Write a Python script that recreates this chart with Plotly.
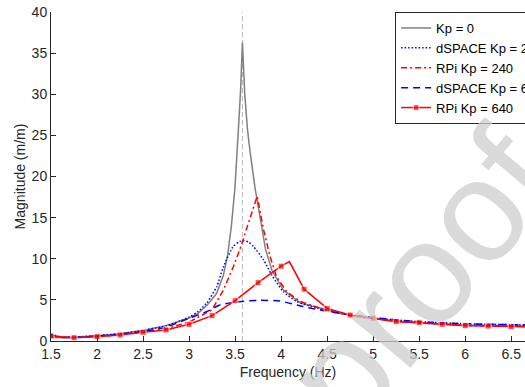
import plotly.graph_objects as go

# ---- data ----
f_kp0 = [1.5, 1.6, 1.75, 2.0, 2.25, 2.5, 2.75, 3.0, 3.1, 3.2, 3.3, 3.373, 3.42, 3.46, 3.497, 3.536, 3.56,
         3.58, 3.605, 3.635, 3.663, 3.717, 3.77, 3.83, 3.90, 4.025, 4.21, 4.5, 4.75, 5.0, 5.5, 6.0, 6.7]
m_kp0 = [0.45, 0.4, 0.42, 0.6, 0.85, 1.3, 1.85, 2.8, 3.4, 4.4, 5.8, 8.0, 10.5, 14.0, 18.4, 25.7, 30.5,
         36.3, 30.0, 25.7, 23.0, 18.6, 15.0, 11.2, 8.6, 6.2, 4.6, 3.8, 3.1, 2.7, 2.2, 1.95, 1.8]

f_ds240 = [1.5, 1.6, 1.75, 2.0, 2.25, 2.5, 2.75, 3.0, 3.1, 3.19, 3.3, 3.373, 3.48, 3.55, 3.6, 3.65,
           3.70, 3.81, 3.90, 4.025, 4.17, 4.39, 4.64, 5.0, 5.5, 6.0, 6.7]
m_ds240 = [0.85, 0.5, 0.5, 0.65, 0.9, 1.3, 1.85, 2.9, 3.6, 4.6, 6.6, 9.0, 11.5, 12.1, 12.2, 12.0,
           11.5, 9.85, 8.0, 6.0, 4.8, 4.0, 3.37, 2.8, 2.35, 2.1, 1.95]

f_rp240 = [1.5, 1.75, 2.0, 2.25, 2.5, 2.75, 3.0, 3.25, 3.373, 3.48, 3.554, 3.65, 3.74, 3.81, 3.88,
           3.95, 4.06, 4.21, 4.42, 4.75, 5.0, 5.5, 6.0, 6.7]
m_rp240 = [0.55, 0.4, 0.55, 0.75, 1.1, 1.5, 2.3, 3.8, 6.2, 9.0, 11.2, 14.5, 17.6, 13.5, 10.3,
           7.8, 6.0, 4.8, 4.0, 3.1, 2.7, 2.2, 1.9, 1.75]

f_ds640 = [1.5, 1.6, 1.75, 2.0, 2.25, 2.5, 2.75, 3.0, 3.19, 3.34, 3.55, 3.77, 3.99, 4.21, 4.42, 4.64,
           5.0, 5.5, 6.0, 6.7]
m_ds640 = [0.75, 0.45, 0.45, 0.6, 0.85, 1.15, 1.7, 2.76, 3.57, 4.4, 4.78, 4.95, 4.85, 4.26, 3.77, 3.37,
           2.85, 2.35, 2.1, 1.95]

f_rp640 = [1.5, 1.75, 2.0, 2.25, 2.5, 2.75, 3.0, 3.25, 3.5, 3.75, 4.0, 4.09, 4.25, 4.5, 4.75, 5.0,
           5.25, 5.5, 5.75, 6.0, 6.25, 6.5, 6.75]
m_rp640 = [0.6, 0.4, 0.53, 0.73, 1.06, 1.34, 2.03, 3.08, 4.9, 7.1, 9.1, 9.65, 6.3, 3.97, 3.16, 2.76,
           2.35, 2.23, 2.03, 1.86, 1.82, 1.74, 1.7]
rp640_marked = [True] * 11 + [False] + [True] * 11

resonance_freq = 3.58
x_ticks = [1.5, 2, 2.5, 3, 3.5, 4, 4.5, 5, 5.5, 6, 6.5]
y_ticks = [0, 5, 10, 15, 20, 25, 30, 35, 40]

names = ["Kp = 0", "dSPACE Kp = 240", "RPi Kp = 240", "dSPACE Kp = 640", "RPi Kp = 640"]

FONT = "Liberation Sans, Arial, sans-serif"
TXT = "#262626"

fig = go.Figure()
fig.add_trace(go.Scatter(x=f_kp0, y=m_kp0, mode="lines", name=names[0],
                         line=dict(color="rgb(128,128,128)", width=1.5)))
fig.add_trace(go.Scatter(x=f_ds240, y=m_ds240, mode="lines", name=names[1],
                         line=dict(color="blue", width=1.5, dash="1.5px,2px", shape="spline", smoothing=0.6)))
fig.add_trace(go.Scatter(x=f_rp240, y=m_rp240, mode="lines", name=names[2],
                         line=dict(color="red", width=1.5, dash="6px,3px,2px,3px")))
fig.add_trace(go.Scatter(x=f_ds640, y=m_ds640, mode="lines", name=names[3],
                         line=dict(color="blue", width=1.5, dash="7px,5px", shape="spline", smoothing=0.6)))
fig.add_trace(go.Scatter(x=f_rp640, y=m_rp640, mode="lines+markers", name=names[4],
                         line=dict(color="red", width=1.5),
                         marker=dict(symbol="square", color="red",
                                     size=[6 if m else 0 for m in rp640_marked])))

fig.add_shape(type="line", x0=resonance_freq, x1=resonance_freq, y0=0, y1=40, xref="x", yref="y",
              line=dict(color="rgb(185,185,185)", width=1, dash="5px,3px"), layer="below")

fig.add_annotation(text="proof", xref="paper", yref="paper", x=0.78, y=0.19,
                   xanchor="center", yanchor="middle", showarrow=False,
                   textangle=-50, font=dict(family=FONT, size=145, color="rgba(205,205,205,0.75)"))

fig.update_layout(
    width=525, height=387,
    margin=dict(l=51, r=0, t=12, b=46, autoexpand=False),
    paper_bgcolor="white", plot_bgcolor="white",
    font=dict(family=FONT, size=14, color=TXT),
    showlegend=True,
    legend=dict(x=0.726, y=1.0, xanchor="left", yanchor="top",
                bgcolor="white", bordercolor=TXT, borderwidth=1,
                font=dict(family=FONT, size=13, color="black"),
                itemwidth=30, tracegroupgap=0),
    xaxis=dict(range=[1.5, 6.65], tickvals=x_ticks, ticktext=[str(v) for v in x_ticks],
               ticks="inside", ticklen=5, tickcolor=TXT, showline=True, linecolor=TXT, linewidth=1,
               showgrid=False, zeroline=False, mirror=False,
               title=dict(text="Frequency (Hz)", standoff=6, font=dict(size=14, color=TXT))),
    yaxis=dict(range=[0, 40], tickvals=y_ticks, ticks="inside", ticklen=5, tickcolor=TXT,
               showline=True, linecolor=TXT, linewidth=1, showgrid=False, zeroline=False,
               title=dict(text="Magnitude (m/m)", standoff=2, font=dict(size=14, color=TXT))),
)

fig.write_html("out.html")
